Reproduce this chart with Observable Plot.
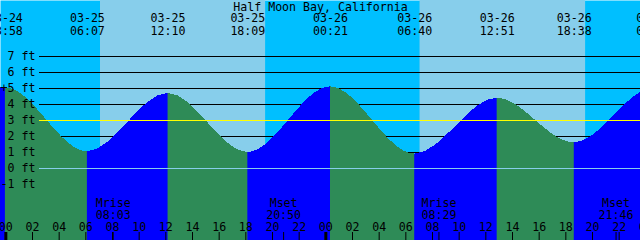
<!DOCTYPE html>
<html><head><meta charset="utf-8">
<script src="https://cdn.jsdelivr.net/npm/d3@7"></script>
<script src="https://cdn.jsdelivr.net/npm/@observablehq/plot@0.6"></script>
<style>
html,body{margin:0;padding:0;background:#fff;}
#chart{width:640px;height:240px;overflow:hidden;}
</style></head><body><div id="chart"></div>
<script>
// ---- data ----
const title = "Half Moon Bay, California";
const tideDates   = ["03-24","03-24","03-25","03-25","03-25","03-26","03-26","03-26","03-26","03-27","03-27"];
const tideTimes   = ["17:40","23:58","06:07","12:10","18:09","00:21","06:40","12:51","18:38","00:35","07:05"];
const tideHeights = [1.4, 5.05, 1.05, 4.7, 1.0, 5.1, 0.9, 4.4, 1.6, 5.0, 0.8];
const sunriseDates = ["03-25","03-26"];
const sunriseTimes = ["07:06","07:04"];
const sunsetDates  = ["03-25","03-26"];
const sunsetTimes  = ["19:29","19:29"];
const moonLabels = ["Mrise","Mset","Mrise","Mset"];
const moonDates  = ["03-25","03-25","03-26","03-26"];
const moonTimes  = ["08:03","20:50","08:29","21:46"];
const levelLabels = [7,6,5,4,3,2,1,0,-1];
const gridLevels = [7,6,5,4,2,1,-1];
const markLevel = [3];
const datumLevel = [0];
const hourTicks = [-2,0,2,4,6,8,10,12,14,16,18,20,22,24,26,28,30,32,34,36,38,40,42,44,46,48];
const midnights = [0,24,48];
const xDomain = [-0.4, 47.6];
const yDomain = [-4.5, 10.5];

// ---- colours ----
const NIGHT = "#00BFFF", DAY = "#87CEEB", GREEN = "#2E8B57", BLUE = "#0000FF";
const FONT = {fontFamily: "DejaVu Sans Mono", fontSize: 11.6, fill: "black"};

const hr = (date, time) => (parseInt(date.slice(3)) - 25) * 24 + parseInt(time.slice(0,2)) + parseInt(time.slice(3)) / 60;
const tide = tideDates.map((d, i) => ({t: hr(d, tideTimes[i]), h: tideHeights[i], date: d, time: tideTimes[i]}));
const daylight = sunriseDates.map((d, i) => ({rise: hr(d, sunriseTimes[i]), set: hr(sunsetDates[i], sunsetTimes[i])}));
const moon = moonDates.map((d, i) => ({t: hr(d, moonTimes[i]), label: moonLabels[i], time: moonTimes[i]}));
const falling = [];
for (let i = 0; i < tide.length - 1; i++) if (tide[i].h > tide[i + 1].h) falling.push([tide[i].t, tide[i + 1].t]);
const pad = h => String(((h % 24) + 24) % 24).padStart(2, "0");

const W = 640, H = 240;
const plot = Plot.plot({
  width: W, height: H, margin: 0,
  style: {overflow: "hidden", background: "white", fontFamily: "DejaVu Sans Mono", fontSize: "11.6px"},
  x: {domain: xDomain, axis: null},
  y: {domain: yDomain, axis: null},
  marks: [
    Plot.frame({fill: NIGHT, stroke: "none"}),
    Plot.rect(daylight, {x1: "rise", x2: "set", fill: DAY}),
    Plot.ruleY(gridLevels, {stroke: "black", insetLeft: 39}),
    Plot.areaY(tide, {x: "t", y1: yDomain[0], y2: "h", curve: "monotone-x", fill: BLUE}),
    Plot.areaY(tide, {x: "t", y1: yDomain[0], y2: "h", curve: "monotone-x", fill: GREEN}),
    Plot.ruleY(markLevel, {stroke: "#FFFF00", insetLeft: 39}),
    Plot.ruleY(datumLevel, {stroke: DAY, insetLeft: 39}),
    Plot.text(levelLabels, {y: d => d, text: d => `${d} ft`, frameAnchor: "left", dx: 35, textAnchor: "end", lineAnchor: "middle", ...FONT}),
    Plot.text([5], {y: d => d, text: () => "+", frameAnchor: "left", dx: 3.5, textAnchor: "middle", lineAnchor: "middle", ...FONT}),
    Plot.ruleX(hourTicks, {stroke: "black", insetTop: 232}),
    Plot.ruleX(midnights, {stroke: "black", strokeWidth: 3, insetTop: 232}),
    Plot.ruleX(moon, {x: "t", stroke: "black", insetTop: 232}),
    Plot.text(hourTicks, {x: d => d, text: d => pad(d), frameAnchor: "bottom", lineAnchor: "bottom", dy: -10, ...FONT}),
    Plot.text(moon, {x: "t", text: "label", frameAnchor: "bottom", lineAnchor: "bottom", dy: -34, ...FONT}),
    Plot.text(moon, {x: "t", text: "time", frameAnchor: "bottom", lineAnchor: "bottom", dy: -22, ...FONT}),
    Plot.text(tide, {x: "t", text: "date", frameAnchor: "top", lineAnchor: "bottom", dy: 21, ...FONT}),
    Plot.text(tide, {x: "t", text: "time", frameAnchor: "top", lineAnchor: "bottom", dy: 34, ...FONT}),
    Plot.text([title], {text: d => d, frameAnchor: "top", lineAnchor: "bottom", dy: 10, ...FONT})
  ]
});

// clip the green (falling tide) area to the falling intervals, using the plot's own x scale
const xs = d3.scaleLinear(plot.scale("x").domain, plot.scale("x").range);
const ns = "http://www.w3.org/2000/svg";
const defs = document.createElementNS(ns, "defs");
const cp = document.createElementNS(ns, "clipPath");
cp.setAttribute("id", "falling-clip");
for (const [a, b] of falling) {
  const r = document.createElementNS(ns, "rect");
  r.setAttribute("x", xs(a)); r.setAttribute("width", xs(b) - xs(a));
  r.setAttribute("y", 0); r.setAttribute("height", H);
  cp.appendChild(r);
}
defs.appendChild(cp);
plot.insertBefore(defs, plot.firstChild);
const areas = plot.querySelectorAll('g[aria-label="area"]');
areas[1].setAttribute("clip-path", "url(#falling-clip)");
areas.forEach(g => g.setAttribute("shape-rendering", "crispEdges"));

document.getElementById("chart").appendChild(plot);
</script></body></html>
